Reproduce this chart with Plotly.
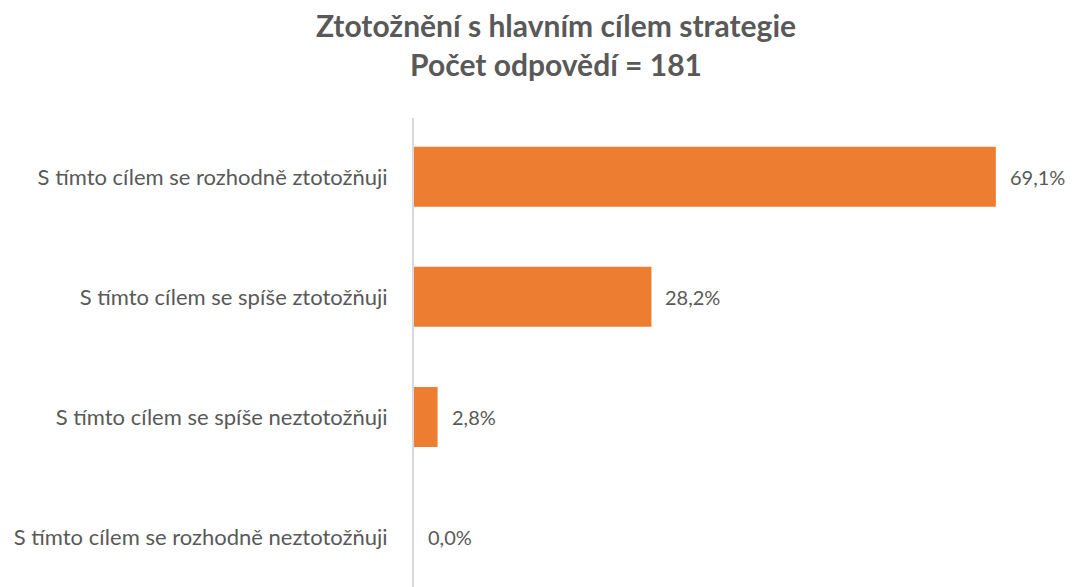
import plotly.graph_objects as go

categories = [
    "S tímto cílem se rozhodně ztotožňuji",
    "S tímto cílem se spíše ztotožňuji",
    "S tímto cílem se spíše neztotožňuji",
    "S tímto cílem se rozhodně neztotožňuji",
]
values = [69.1, 28.2, 2.8, 0.0]
labels = ["69,1%", "28,2%", "2,8%", "0,0%"]

title_lines = ["Ztotožnění s hlavním cílem strategie", "Počet odpovědí = 181"]

FONT = "Lato"
GRAY = "#595959"

# browser body margin of 8px is compensated for in sizes / margins
W, H = 1067, 579
L, T = 406, 110
plot_h = H - T

fig = go.Figure()
fig.add_trace(go.Bar(
    y=categories, x=values, orientation="h",
    marker=dict(color="#ED7D31", line=dict(width=0)),
    width=0.5, hoverinfo="skip",
))

for c, v, t in zip(categories, values, labels):
    fig.add_annotation(x=v, y=c, text=t, showarrow=False, xanchor="left",
                       xshift=12, font=dict(family=FONT, size=20, color=GRAY))

fig.add_annotation(
    text="<br>".join(title_lines), xref="paper", yref="paper",
    x=(556 - 8 - L) / (W - L), y=(H + 3) / plot_h, xanchor="center", yanchor="top",
    showarrow=False, font=dict(family=FONT, size=30, color=GRAY, weight="bold"),
)

fig.update_layout(
    width=W, height=H,
    margin=dict(l=L, r=0, t=T, b=0),
    paper_bgcolor="white", plot_bgcolor="white",
    showlegend=False,
    xaxis=dict(range=[0, 78.5], showgrid=False, showticklabels=False, zeroline=False,
               showline=False, fixedrange=True),
    yaxis=dict(range=[3.417, -0.49], showgrid=False, showline=True, linecolor="#D9D9D9",
               linewidth=2, ticks="", ticklabelstandoff=20, automargin=False,
               tickfont=dict(family=FONT, size=22, color=GRAY)),
)

fig.write_html("out.html")
